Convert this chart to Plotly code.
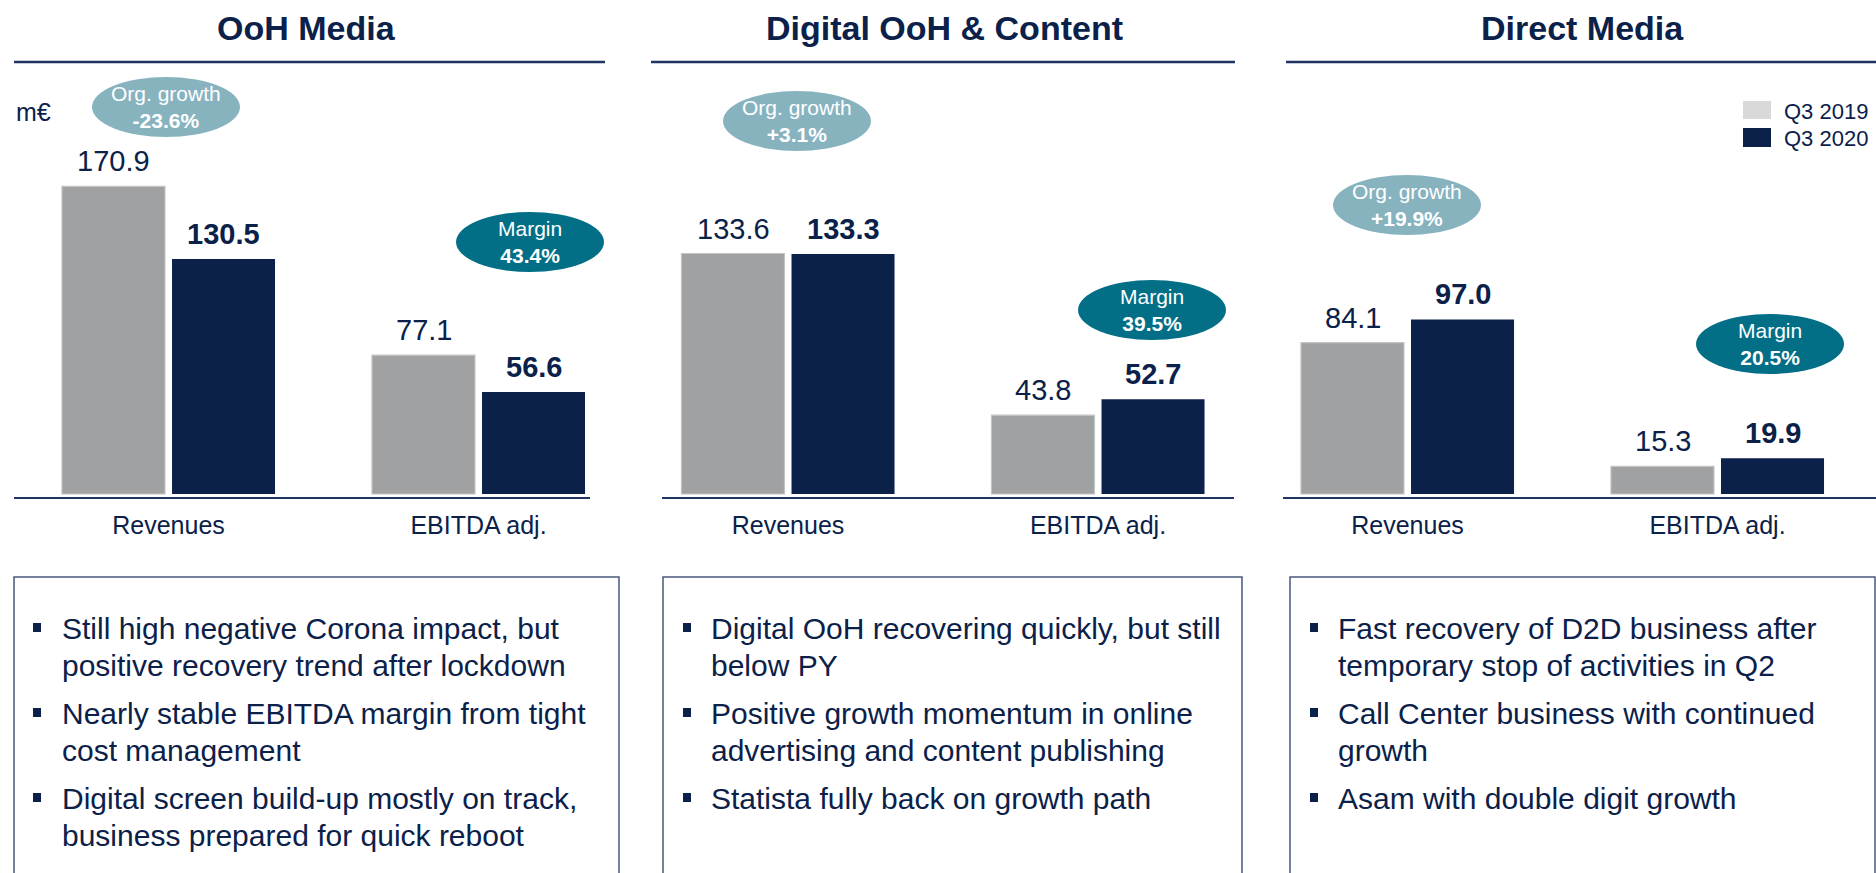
import plotly.graph_objects as go

# ---------------- data ----------------
segments = ["OoH Media", "Digital OoH & Content", "Direct Media"]
categories = ["Revenues", "EBITDA adj."]
series_names = ["Q3 2019", "Q3 2020"]

ooh_2019 = [170.9, 77.1]
ooh_2020 = [130.5, 56.6]
dooh_2019 = [133.6, 43.8]
dooh_2020 = [133.3, 52.7]
dm_2019 = [84.1, 15.3]
dm_2020 = [97.0, 19.9]

org_growth = ["-23.6%", "+3.1%", "+19.9%"]
margins = ["43.4%", "39.5%", "20.5%"]
unit_label = "m€"

bullets_ooh = [
    ["Still high negative Corona impact, but", "positive recovery trend after lockdown"],
    ["Nearly stable EBITDA margin from tight", "cost management"],
    ["Digital screen build-up mostly on track,", "business prepared for quick reboot"],
]
bullets_dooh = [
    ["Digital OoH recovering quickly, but still", "below PY"],
    ["Positive growth momentum in online", "advertising and content publishing"],
    ["Statista fully back on growth path"],
]
bullets_dm = [
    ["Fast recovery of D2D business after", "temporary stop of activities in Q2"],
    ["Call Center business with continued", "growth"],
    ["Asam with double digit growth"],
]

# ---------------- style ----------------
W, H = 1876, 873
FONT = "Liberation Sans, Arial, Helvetica, sans-serif"
NAVY = "#0b2149"
LINE_NAVY = "#1f3461"
GRAY = "#a0a1a3"
LEG_GRAY = "#d9d9d9"
ORG_COL = "#87b3bf"
MARGIN_COL = "#036f87"
BOX_COL = "#4a5a7c"


def px(x):
    return x / W


def py(y):
    return 1 - y / H


SPACING = 310.0  # px between category centres
SCALE = 1.8      # px per m€
PLOT_TOP, AXIS_Y, BASE_Y = 60, 497, 494

panels = [
    dict(vals=(ooh_2019, ooh_2020), ax=(14, 590), cat0=168.5, title_x=306,
         line=(14, 605), box=(14, 619), org=(166, 107), mar=(530, 242),
         bullet_x=37, text_x=60, bullets=bullets_ooh),
    dict(vals=(dooh_2019, dooh_2020), ax=(662, 1234), cat0=788, title_x=944,
         line=(651, 1235), box=(663, 1242), org=(797, 121), mar=(1152, 310),
         bullet_x=687, text_x=709, bullets=bullets_dooh),
    dict(vals=(dm_2019, dm_2020), ax=(1283, 1876), cat0=1407.5, title_x=1582,
         line=(1286, 1876), box=(1290, 1875), org=(1407, 205), mar=(1770, 344),
         bullet_x=1314, text_x=1336, bullets=bullets_dm),
]

ymin = -(AXIS_Y - BASE_Y) / SCALE
ymax = ymin + (AXIS_Y - PLOT_TOP) / SCALE

fig = go.Figure()
layout = dict(
    width=W, height=H, margin=dict(l=0, r=0, t=0, b=0),
    paper_bgcolor="white", plot_bgcolor="white",
    barmode="group", bargap=0.29, bargroupgap=0.064,
    showlegend=False, font=dict(family=FONT, color=NAVY),
)
shapes = []
annotations = []

for i, p in enumerate(panels):
    sfx = "" if i == 0 else str(i + 1)
    xa, ya = "x" + sfx, "y" + sfx
    v19, v20 = p["vals"]
    fig.add_trace(go.Bar(x=categories, y=v19, name=series_names[0], xaxis=xa, yaxis=ya,
                         marker=dict(color=GRAY, line=dict(color="#c4c4c4", width=1.2)),
                         hoverinfo="skip"))
    fig.add_trace(go.Bar(x=categories, y=v20, name=series_names[1], xaxis=xa, yaxis=ya,
                         marker=dict(color=NAVY, line=dict(width=0)), hoverinfo="skip"))
    x0, x1 = p["ax"]
    rng = [-(p["cat0"] - x0) / SPACING, (x1 - p["cat0"]) / SPACING]
    layout["xaxis" + sfx] = dict(
        domain=[px(x0), px(x1)], range=rng, anchor=ya, type="category",
        showline=True, linecolor=LINE_NAVY, linewidth=2, showgrid=False,
        zeroline=False, ticks="", ticklabelstandoff=5,
        tickfont=dict(size=25, color=NAVY, family=FONT),
        fixedrange=True,
    )
    layout["yaxis" + sfx] = dict(
        domain=[py(AXIS_Y), py(PLOT_TOP)], range=[ymin, ymax], anchor=xa,
        visible=False, fixedrange=True,
    )
    # value labels
    for vals, shift, bold in ((v19, -55, False), (v20, 55, True)):
        for c, v in zip(categories, vals):
            t = f"{v:.1f}"
            annotations.append(dict(
                x=c, y=v, xref=xa, yref=ya, xshift=shift, yshift=25,
                text=f"<b>{t}</b>" if bold else t, showarrow=False,
                yanchor="middle", xanchor="center",
                font=dict(size=29, color=NAVY, family=FONT)))
    # title + underline
    annotations.append(dict(x=px(p["title_x"]), y=py(28), xref="paper", yref="paper",
                            text=f"<b>{segments[i]}</b>", showarrow=False,
                            xanchor="center", yanchor="middle",
                            font=dict(size=34, color=NAVY, family=FONT)))
    shapes.append(dict(type="line", xref="paper", yref="paper",
                       x0=px(p["line"][0]), x1=px(p["line"][1]), y0=py(62), y1=py(62),
                       line=dict(color=LINE_NAVY, width=2.3)))
    # ellipses
    ox, oy = p["org"]
    shapes.append(dict(type="circle", xref="paper", yref="paper",
                       x0=px(ox - 74), x1=px(ox + 74), y0=py(oy + 30), y1=py(oy - 30),
                       fillcolor=ORG_COL, line=dict(width=0)))
    annotations.append(dict(x=px(ox), y=py(oy), xref="paper", yref="paper",
                            text=f"Org. growth<br><b>{org_growth[i]}</b>", showarrow=False,
                            xanchor="center", yanchor="middle",
                            font=dict(size=21, color="white", family=FONT)))
    mx, my = p["mar"]
    shapes.append(dict(type="circle", xref="paper", yref="paper",
                       x0=px(mx - 74), x1=px(mx + 74), y0=py(my + 30), y1=py(my - 30),
                       fillcolor=MARGIN_COL, line=dict(width=0)))
    annotations.append(dict(x=px(mx), y=py(my), xref="paper", yref="paper",
                            text=f"Margin<br><b>{margins[i]}</b>", showarrow=False,
                            xanchor="center", yanchor="middle",
                            font=dict(size=21, color="white", family=FONT)))
    # text box
    bx0, bx1 = p["box"]
    shapes.append(dict(type="rect", xref="paper", yref="paper",
                       x0=px(bx0), x1=px(bx1), y0=py(900), y1=py(577),
                       line=dict(color=BOX_COL, width=1.5), fillcolor="rgba(0,0,0,0)"))
    line_y = 628
    for b in p["bullets"]:
        shapes.append(dict(type="rect", xref="paper", yref="paper",
                           x0=px(p["bullet_x"] - 4), x1=px(p["bullet_x"] + 4),
                           y0=py(line_y + 4), y1=py(line_y - 5),
                           fillcolor=NAVY, line=dict(width=0)))
        for ln in b:
            annotations.append(dict(x=px(p["text_x"]), y=py(line_y), xref="paper", yref="paper",
                                    text=ln, showarrow=False, xanchor="left", yanchor="middle",
                                    font=dict(size=30, color=NAVY, family=FONT)))
            line_y += 37
        line_y += 11

# unit label
annotations.append(dict(x=px(14), y=py(112), xref="paper", yref="paper", text=unit_label,
                        showarrow=False, xanchor="left", yanchor="middle",
                        font=dict(size=25, color=NAVY, family=FONT)))
# legend
for (name, col, y0, y1, ty) in ((series_names[0], LEG_GRAY, 101, 119, 111),
                                (series_names[1], NAVY, 128, 147, 138)):
    shapes.append(dict(type="rect", xref="paper", yref="paper", x0=px(1743), x1=px(1771),
                       y0=py(y1), y1=py(y0), fillcolor=col, line=dict(width=0)))
    annotations.append(dict(x=px(1782), y=py(ty), xref="paper", yref="paper", text=name,
                            showarrow=False, xanchor="left", yanchor="middle",
                            font=dict(size=22, color=NAVY, family=FONT)))

layout["shapes"] = shapes
layout["annotations"] = annotations
fig.update_layout(**layout)
fig.write_html(
    "out.html",
    config={"displayModeBar": False, "staticPlot": True},
    post_script="document.body.style.margin='0';document.body.style.overflow='hidden';",
)
